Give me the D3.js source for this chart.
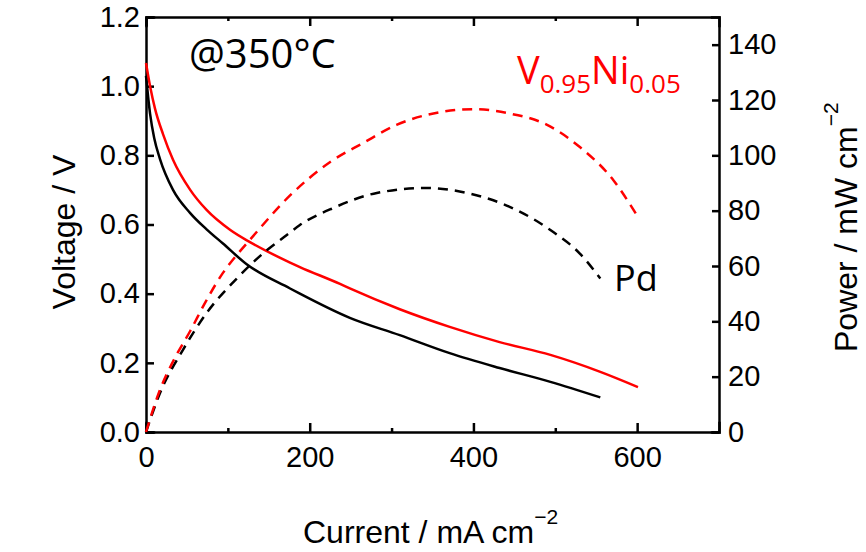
<!DOCTYPE html>
<html>
<head>
<meta charset="utf-8">
<script src="https://cdn.jsdelivr.net/npm/d3@7"></script>
<style>
  body { margin: 0; background: #fff; }
  svg { display: block; }
  .axis text { font-family: "Liberation Sans", Arial, sans-serif; font-size: 29px; fill: #000; }
  .axis path, .axis line { stroke: #000; stroke-width: 2.5px; }
  .note { font-family: "Open Sans", sans-serif; }
</style>
</head>
<body>
<svg id="chart" width="866" height="552"></svg>
<script>
// Pd membrane: voltage and power vs current
const pdCurrentV = [0, 3, 5, 10, 17, 33, 54, 74, 94, 123, 176, 188, 249, 310, 371, 432, 494, 555];
const pdVoltage  = [1.03, 0.96, 0.92, 0.85, 0.79, 0.70, 0.633, 0.586, 0.545, 0.485, 0.415, 0.40, 0.33, 0.28, 0.228, 0.185, 0.145, 0.10];
const pdCurrentP = [0, 17, 45, 74, 111, 148, 172, 188, 229, 282, 343, 392, 453, 494, 530, 555];
const pdPower    = [0, 14, 29.6, 43, 55.5, 65.8, 71.2, 74.8, 81, 86.4, 88.2, 86.4, 80.2, 73, 64.5, 55.5];

// V0.95Ni0.05 membrane
const vnCurrentV = [0, 5, 11, 21, 33, 54, 74, 103, 127, 176, 188, 237, 249, 310, 371, 432, 494, 555, 601];
const vnVoltage  = [1.067, 1.0, 0.935, 0.86, 0.787, 0.70, 0.642, 0.584, 0.549, 0.49, 0.477, 0.428, 0.415, 0.355, 0.304, 0.26, 0.223, 0.174, 0.13];
const vnCurrentP = [0, 17, 33, 54, 74, 94, 111, 127, 176, 225, 265, 306, 359, 400, 441, 490, 530, 571, 601];
const vnPower    = [0, 15.2, 25.5, 36.5, 47.7, 57.5, 64, 69.5, 85.5, 97.6, 104.4, 111, 115.6, 116.7, 115.3, 111, 103, 91, 77.7];

const xTicks = [0, 200, 400, 600];
const xMinorTicks = [100, 300, 500];
const voltTicks = [0, 0.2, 0.4, 0.6, 0.8, 1.0, 1.2];
const powerTicks = [0, 20, 40, 60, 80, 100, 120, 140];

const svg = d3.select("#chart");
const plotL = 146, plotR = 719, plotT = 17, plotB = 432;

const x = d3.scaleLinear().domain([0, 700]).range([plotL, plotR]);
const yV = d3.scaleLinear().domain([0, 1.2]).range([plotB, plotT]);
const yP = d3.scaleLinear().domain([0, 150]).range([plotB, plotT]);

// axes, ticks pointing inward
svg.append("g").attr("class", "axis")
  .attr("transform", `translate(0,${plotB})`)
  .call(d3.axisBottom(x).tickValues(xTicks).tickSize(-9).tickPadding(14).tickFormat(d3.format("d")));
svg.append("g").attr("class", "axis minor")
  .attr("transform", `translate(0,${plotB})`)
  .call(d3.axisBottom(x).tickValues(xMinorTicks).tickSize(-4).tickFormat(""))
  .select(".domain").remove();
svg.append("g").attr("class", "axis")
  .attr("transform", `translate(0,${plotT})`)
  .call(d3.axisTop(x).tickValues(xTicks).tickSize(-9).tickFormat(""));
svg.append("g").attr("class", "axis minor")
  .attr("transform", `translate(0,${plotT})`)
  .call(d3.axisTop(x).tickValues(xMinorTicks).tickSize(-4).tickFormat(""))
  .select(".domain").remove();
svg.append("g").attr("class", "axis")
  .attr("transform", `translate(${plotL},0)`)
  .call(d3.axisLeft(yV).tickValues(voltTicks).tickSize(-8).tickPadding(6).tickFormat(d3.format(".1f")));
svg.append("g").attr("class", "axis")
  .attr("transform", `translate(${plotR},0)`)
  .call(d3.axisRight(yP).tickValues(powerTicks).tickSize(-7).tickPadding(9).tickFormat(d3.format("d")));
svg.selectAll(".axis .domain").attr("stroke-linecap", "square");

// curves
const vLine = d3.line().x(d => x(d[0])).y(d => yV(d[1])).curve(d3.curveMonotoneX);
const pLine = d3.line().x(d => x(d[0])).y(d => yP(d[1])).curve(d3.curveMonotoneX);

const series = [
  { cur: pdCurrentV, val: pdVoltage, line: vLine, color: "#000", dash: null },
  { cur: vnCurrentV, val: vnVoltage, line: vLine, color: "#ff0000", dash: null },
  { cur: pdCurrentP, val: pdPower, line: pLine, color: "#000", dash: "10,7" },
  { cur: vnCurrentP, val: vnPower, line: pLine, color: "#ff0000", dash: "10,7" },
];
series.forEach(s => {
  svg.append("path")
    .datum(d3.zip(s.cur, s.val))
    .attr("d", s.line)
    .attr("fill", "none")
    .attr("stroke", s.color)
    .attr("stroke-width", 2.5)
    .attr("stroke-dasharray", s.dash);
});

// annotations
svg.append("text").attr("class", "note")
  .attr("x", 189).attr("y", 68)
  .attr("font-size", 40)
  .text("@350°C");

const lab = svg.append("text").attr("class", "note")
  .attr("x", 517).attr("y", 84)
  .attr("font-size", 38).attr("fill", "#ff0000");
lab.append("tspan").text("V");
lab.append("tspan").attr("font-size", 26).attr("dy", 9).text("0.95");
lab.append("tspan").attr("dy", -9).text("Ni");
lab.append("tspan").attr("font-size", 26).attr("dy", 9).text("0.05");

svg.append("text").attr("class", "note")
  .attr("x", 614).attr("y", 291)
  .attr("font-size", 36)
  .text("Pd");

// axis titles
const axisFont = "'Liberation Sans', Arial, sans-serif";
const xt = svg.append("text")
  .attr("x", 303).attr("y", 543)
  .attr("font-family", axisFont).attr("font-size", 32);
xt.append("tspan").text("Current / mA cm");
xt.append("tspan").attr("font-size", 21).attr("dy", -19).text("−2");

svg.append("text")
  .attr("transform", "translate(75,232) rotate(-90)")
  .attr("text-anchor", "middle")
  .attr("font-family", axisFont).attr("font-size", 32)
  .text("Voltage / V");

const yt = svg.append("text")
  .attr("transform", "translate(857,352) rotate(-90)")
  .attr("font-family", axisFont).attr("font-size", 32);
yt.append("tspan").text("Power / mW cm");
yt.append("tspan").attr("font-size", 21).attr("dy", -19).text("−2");
</script>
</body>
</html>
